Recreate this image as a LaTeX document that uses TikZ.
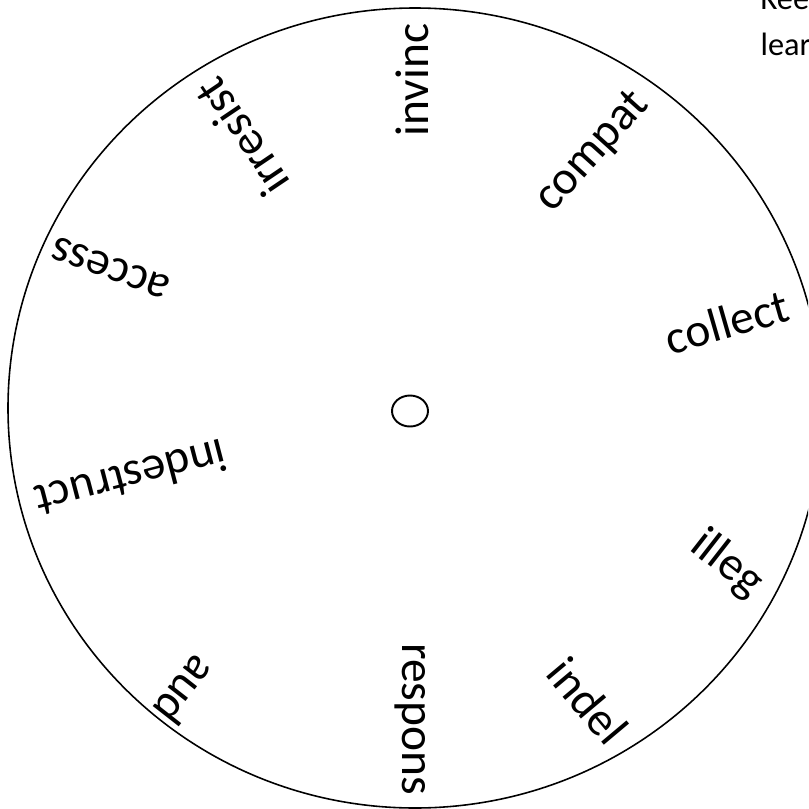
\documentclass[tikz,border=0pt]{standalone}
\usepackage{fontspec}
\setmainfont{Carlito}
\begin{document}
\begin{tikzpicture}[x=0.01cm,y=-0.01cm,
  word/.style={inner sep=0pt, font=\fontsize{13.5pt}{16pt}\selectfont},
  note/.style={inner sep=0pt, anchor=base west, font=\fontsize{9.2pt}{11pt}\selectfont},
  rim/.style={draw=black, line width=0.45pt}]
\useasboundingbox (0,0) rectangle (808,809);
\clip (0,0) rectangle (808,809);
% wheel
\draw[rim] (415,408) ellipse [x radius=407, y radius=400];
\draw[rim, line width=0.55pt] (410,411) ellipse [x radius=18, y radius=15.5];
% labels
\node[word, rotate=90]    (invinc)     at (412,80)  {invinc};
\node[word, rotate=48]    (compat)     at (593,152) {compat};
\node[word, rotate=16]    (collect)    at (727,322) {collect};
\node[word, rotate=-38]   (illeg)      at (727,564) {illeg};
\node[word, rotate=-50]   (indel)      at (588,701) {indel};
\node[word, rotate=-90]   (respons)    at (410,719) {respons};
\node[word, rotate=232]   (aud)        at (186,691) {aud};
\node[word, rotate=194.6] (indestruct) at (131,479) {indestruct};
\node[word, rotate=160]   (access)     at (111,268) {access};
\node[word, rotate=124]   (irresist)   at (242,137) {irresist};
% clipped side text
\node[note] (kee)  at (760,10) {Kee};
\node[note] (lear) at (760,55) {lear};
\end{tikzpicture}
\end{document}
